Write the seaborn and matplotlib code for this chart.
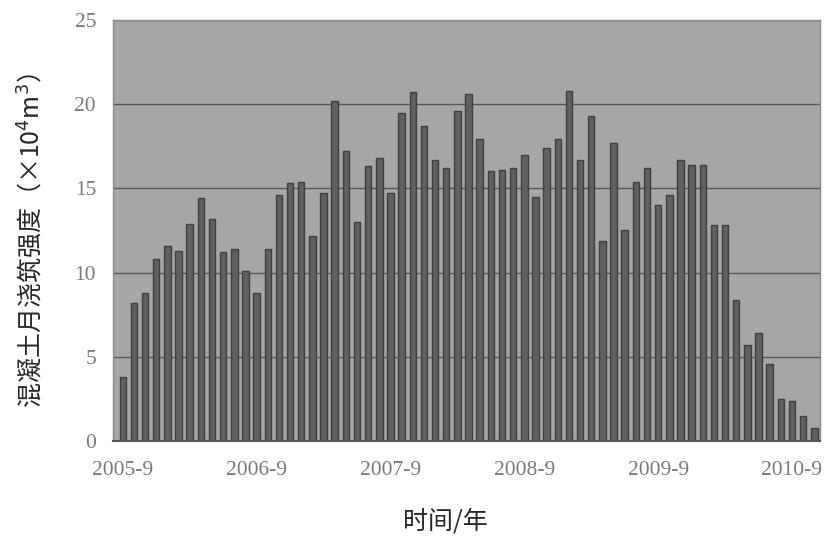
import matplotlib
matplotlib.use("Agg")
import matplotlib.pyplot as plt
import seaborn as sns
import pandas as pd
import numpy as np

months = [f"{y}-{m}" for y in range(2005, 2011) for m in range(1, 13)]
months = months[months.index("2005-9"):months.index("2010-11") + 1]

values = [3.8, 8.2, 8.8, 10.8, 11.6, 11.3, 12.9, 14.4, 13.2, 11.2,
          11.4, 10.1, 8.8, 11.4, 14.6, 15.3, 15.4, 12.2, 14.7, 20.2,
          17.2, 13.0, 16.3, 16.8, 14.7, 19.5, 20.7, 18.7, 16.7, 16.2,
          19.6, 20.6, 17.9, 16.0, 16.1, 16.2, 17.0, 14.5, 17.4, 17.9,
          20.8, 16.7, 19.3, 11.9, 17.7, 12.5, 15.4, 16.2, 14.0, 14.6,
          16.7, 16.4, 16.4, 12.8, 12.8, 8.4, 5.7, 6.4, 4.6, 2.5,
          2.4, 1.5, 0.8]

tick_labels = ["2005-9", "2006-9", "2007-9", "2008-9", "2009-9", "2010-9"]

df = pd.DataFrame({"month": months, "value": values})

sns.set_theme(style="white")
plt.rcParams['font.family'] = ['Liberation Serif', 'Noto Sans CJK SC', 'DejaVu Sans']

fig = plt.figure(figsize=(8.29, 5.36), dpi=100)
ax = fig.add_axes([0.136, 0.177, 0.853, 0.786])
ax.set_facecolor("#a6a6a6")

sns.barplot(data=df, x="month", y="value", ax=ax, color="#606060",
            width=0.58, saturation=1, edgecolor="#404040", linewidth=1.0)

ax.set_ylim(0, 25)
ax.set_xlim(-0.9, 62.5)
ax.set_yticks([0, 5, 10, 15, 20, 25])
ax.set_yticklabels(["0", "5", "10", "15", "20", "25"])
pos = [months.index(t) for t in tick_labels]
ax.set_xticks(pos)
ax.set_xticklabels(tick_labels)
ax.tick_params(axis="both", length=0, labelsize=15.5, labelcolor="#7a7a7a")
ax.tick_params(axis="x", pad=14)
ax.tick_params(axis="y", pad=12)
ax.yaxis.grid(True, color="#585858", linewidth=1.0)
ax.set_axisbelow(True)
for s in ax.spines.values():
    s.set_color("#8a8a8a")
    s.set_linewidth(1.0)
ax.spines["bottom"].set_color("#555555")
ax.spines["bottom"].set_linewidth(1.5)

ax.set_xlabel("时间/年", fontsize=18, family=["Noto Sans CJK SC"])
ax.xaxis.set_label_coords(0.47, -0.16)
ax.set_ylabel("混凝土月浇筑强度（×10$^4$m$^3$）", fontsize=18,
              family=["Noto Sans CJK SC", "DejaVu Sans"])
ax.yaxis.set_label_coords(-0.094, 0.477)

fig.savefig("out.png", dpi=100)
